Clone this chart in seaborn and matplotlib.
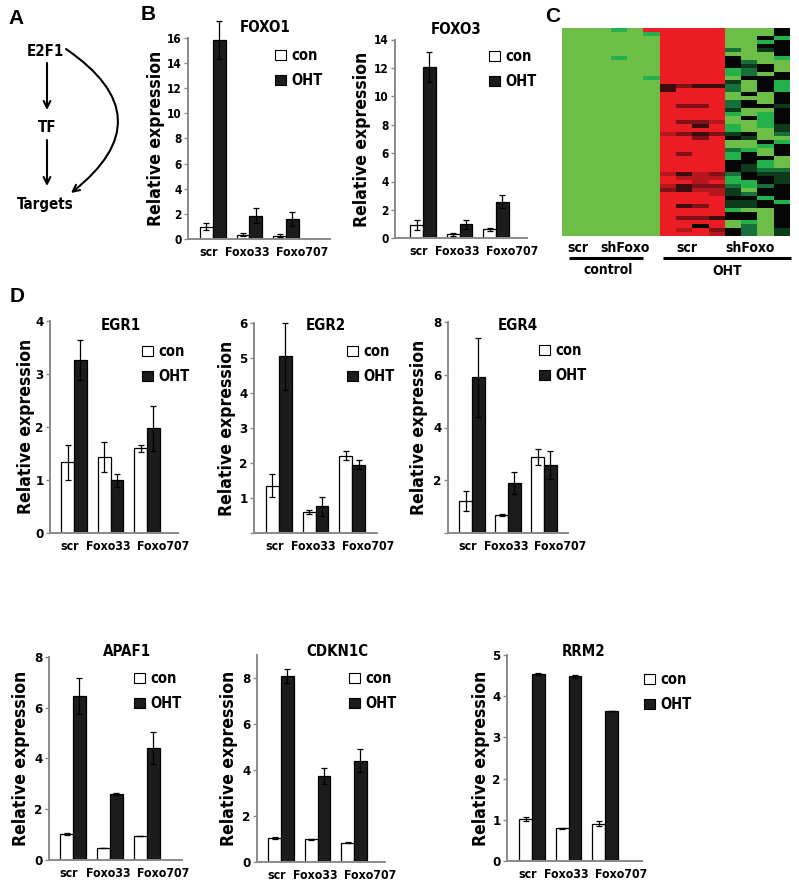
import numpy as np
import pandas as pd
import matplotlib
matplotlib.use('Agg')
import matplotlib.pyplot as plt
from matplotlib import font_manager as fm
from matplotlib import transforms
from matplotlib.colors import ListedColormap
from matplotlib.patches import Patch
import seaborn as sns

W, H = 799, 890

GROUPS = ['scr', 'Foxo33', 'Foxo707']
CONDS = ['con', 'OHT']

# panel B (qPCR, mean and error)
FOXO1_CON = [1.0, 0.37, 0.3]
FOXO1_CON_ERR = [0.27, 0.1, 0.12]
FOXO1_OHT = [15.8, 1.87, 1.63]
FOXO1_OHT_ERR = [1.5, 0.6, 0.55]
FOXO3_CON = [0.92, 0.28, 0.63]
FOXO3_CON_ERR = [0.35, 0.12, 0.12]
FOXO3_OHT = [12.05, 0.99, 2.58]
FOXO3_OHT_ERR = [1.05, 0.3, 0.45]

# panel D
EGR1_CON = [1.33, 1.43, 1.59]
EGR1_CON_ERR = [0.33, 0.28, 0.07]
EGR1_OHT = [3.26, 0.99, 1.97]
EGR1_OHT_ERR = [0.38, 0.12, 0.42]
EGR2_CON = [1.35, 0.6, 2.2]
EGR2_CON_ERR = [0.33, 0.06, 0.13]
EGR2_OHT = [5.05, 0.76, 1.95]
EGR2_OHT_ERR = [0.95, 0.27, 0.12]
EGR4_CON = [1.22, 0.69, 2.9]
EGR4_CON_ERR = [0.38, 0.05, 0.3]
EGR4_OHT = [5.9, 1.91, 2.58]
EGR4_OHT_ERR = [1.5, 0.42, 0.53]
APAF1_CON = [1.02, 0.46, 0.93]
APAF1_CON_ERR = [0.03, 0.0, 0.0]
APAF1_OHT = [6.45, 2.6, 4.4]
APAF1_OHT_ERR = [0.7, 0.04, 0.63]
CDKN1C_CON = [1.04, 0.97, 0.83]
CDKN1C_CON_ERR = [0.03, 0.03, 0.01]
CDKN1C_OHT = [8.1, 3.75, 4.4]
CDKN1C_OHT_ERR = [0.3, 0.35, 0.5]
RRM2_CON = [1.02, 0.79, 0.91]
RRM2_CON_ERR = [0.05, 0.01, 0.06]
RRM2_OHT = [4.54, 4.48, 3.64]
RRM2_OHT_ERR = [0.02, 0.03, 0.01]

# panel C heatmap, one char per cell: 6 control | 4 OHT scr | 4 OHT shFoxo
# 0 light green .. 4 black .. 8 red
HEAT_ROWS = [
    '000108' '8888' '0004',
    '000001' '8888' '0004',
    '000000' '8888' '0041',
    '000000' '8888' '0014',
    '000000' '8888' '0044',
    '000000' '8888' '2034',
    '000000' '8888' '0004',
    '000100' '8888' '4001',
    '000000' '8888' '4200',
    '000000' '8888' '4340',
    '000000' '8888' '1240',
    '000000' '8888' '1204',
    '000001' '8888' '0444',
    '000000' '8888' '3041',
    '000000' '5655' '2041',
    '000000' '5888' '2041',
    '000000' '8888' '0404',
    '000000' '8888' '0004',
    '000000' '8888' '2404',
    '000000' '8668' '2443',
    '000000' '8888' '3004',
    '000000' '8888' '1014',
    '000000' '8888' '0414',
    '000000' '8667' '0014',
    '000000' '8858' '1013',
    '000000' '8888' '1003',
    '000000' '7656' '3402',
    '000000' '8868' '4300',
    '000000' '8888' '0041',
    '000000' '8888' '0014',
    '000000' '8888' '2104',
    '000000' '8688' '1404',
    '000000' '8888' '1440',
    '000000' '8888' '4410',
    '000000' '8888' '4310',
    '000000' '8888' '4322',
    '000000' '7576' '2433',
    '000000' '8777' '1443',
    '000000' '8878' '1143',
    '000000' '7566' '2124',
    '000000' '6577' '3044',
    '000000' '8887' '3244',
    '000000' '8888' '4414',
    '000000' '8888' '3341',
    '000000' '8568' '3344',
    '000000' '8888' '1004',
    '000000' '8888' '4404',
    '000000' '8665' '4404',
    '000000' '8888' '0104',
    '000000' '8848' '0204',
    '000000' '8786' '4203',
    '000000' '8887' '4203',
]
HEAT_COLORS = ['#6cbe46', '#22b14b', '#17703a', '#0c3a1b', '#060606',
               '#3c0b0d', '#7e1218', '#b6171f', '#ec1c24']

sns.set_theme(style='white')

# the figure uses a condensed bold sans; take one if it is installed
narrow = None
for f in fm.fontManager.ttflist:
    is_narrow = ('Narrow' in f.name or 'Condensed' in f.name
                 or str(f.stretch) in ('condensed', 'semi-condensed', 'extra-condensed'))
    if is_narrow and 'Mono' not in f.name and 'Serif' not in f.name:
        if narrow is None or 'Liberation' in f.name:
            narrow = f
if narrow is not None:
    plt.rcParams['font.family'] = [narrow.name, 'Liberation Sans', 'DejaVu Sans']
    plt.rcParams['font.stretch'] = 'condensed'
    k = 1.0
else:
    plt.rcParams['font.family'] = ['Liberation Sans', 'DejaVu Sans']
    k = 0.85
plt.rcParams['font.weight'] = 'bold'
plt.rcParams['text.color'] = 'black'
plt.rcParams['xtick.labelcolor'] = 'black'
plt.rcParams['ytick.labelcolor'] = 'black'

fig = plt.figure(figsize=(W / 100, H / 100), dpi=100)
fig.patch.set_facecolor('white')

texts = []
# the group names sit as one spaced line, not centred on the bars (pixels)
LABEL_SHIFT = [-4, -2, 16]


def bar_panel(x0, x1, yz, yt, ymax, yticks, xlim, con, con_err, oht, oht_err,
              title, title_xy, ylab_x, leg_xy, tick_size=9.5, show_zero=True):
    ax = fig.add_axes([x0 / W, 1 - yz / H, (x1 - x0) / W, (yz - yt) / H])
    ax.patch.set_alpha(0)
    df = pd.DataFrame({'group': GROUPS * 2,
                       'cond': ['con'] * 3 + ['OHT'] * 3,
                       'value': con + oht})
    sns.barplot(data=df, x='group', y='value', hue='cond', order=GROUPS,
                hue_order=CONDS, palette={'con': 'white', 'OHT': '#1c1c1c'},
                saturation=1, edgecolor='black', linewidth=0.9, width=0.7,
                errorbar=None, legend=False, ax=ax)
    for cont, err in zip(ax.containers, [con_err, oht_err]):
        xs = [b.get_x() + b.get_width() / 2 for b in cont]
        ys = [b.get_height() for b in cont]
        ax.errorbar(xs, ys, yerr=err, fmt='none', ecolor='black',
                    elinewidth=0.9, capsize=2.5, capthick=0.9, clip_on=False,
                    zorder=5)
    ax.set_xlim(*xlim)
    ax.set_ylim(0, ymax)
    ax.set_yticks(yticks)
    labs = [str(t) for t in yticks]
    if not show_zero:
        labs[0] = ''
    ax.set_yticklabels(labs)
    ax.set_xlabel('')
    ax.set_ylabel('')
    for s in ['top', 'right']:
        ax.spines[s].set_visible(False)
    for s in ['left', 'bottom']:
        ax.spines[s].set_color('#8a8a8a')
        ax.spines[s].set_linewidth(1.4)
    ax.tick_params(axis='y', left=True, length=3, width=1, color='#8a8a8a',
                   labelcolor='black', pad=1.5, labelsize=tick_size * k)
    ax.tick_params(axis='x', length=0, pad=5, labelsize=8.8 * k,
                   labelcolor='black')
    for lab in ax.get_xticklabels() + ax.get_yticklabels():
        lab.set_fontweight('bold')
    for lab, dx in zip(ax.get_xticklabels(), LABEL_SHIFT):
        off = transforms.ScaledTranslation(dx / 100, 0, fig.dpi_scale_trans)
        lab.set_transform(lab.get_transform() + off)
    texts.append((title_xy[0], title_xy[1], title, 10.8 * k, 0))
    texts.append((ylab_x, (yz + yt) / 2, 'Relative expression', 12.6 * k, 90))
    leg = ax.legend(handles=[Patch(fc='white', ec='black', lw=0.8),
                             Patch(fc='#1c1c1c', ec='black', lw=0.8)],
                    labels=CONDS, loc='center left',
                    bbox_to_anchor=(leg_xy[0] / W, 1 - leg_xy[1] / H),
                    bbox_transform=fig.transFigure, frameon=False, borderpad=0,
                    handlelength=0.7, handleheight=0.7, handletextpad=0.4,
                    labelspacing=0.65, prop={'weight': 'bold', 'size': 10.5 * k})
    for t in leg.get_texts():
        t.set_color('black')
    return ax


# panel B
bar_panel(188, 330, 239.3, 37.6, 16, list(range(0, 17, 2)), (-0.68, 3.2),
          FOXO1_CON, FOXO1_CON_ERR, FOXO1_OHT, FOXO1_OHT_ERR,
          'FOXO1', (265, 27), 156, (268, 68), tick_size=8.5)
bar_panel(395, 527, 238.3, 39.5, 14, list(range(0, 15, 2)), (-0.77, 2.85),
          FOXO3_CON, FOXO3_CON_ERR, FOXO3_OHT, FOXO3_OHT_ERR,
          'FOXO3', (456, 30), 362, (482, 69), tick_size=8.5)

# panel D, top row
bar_panel(50, 178, 532.7, 320.7, 4, [0, 1, 2, 3, 4], (-0.66, 2.85),
          EGR1_CON, EGR1_CON_ERR, EGR1_OHT, EGR1_OHT_ERR,
          'EGR1', (121, 326), 26, (135, 364))
bar_panel(254, 377, 532.7, 323.3, 6, [0, 1, 2, 3, 4, 5, 6], (-0.68, 2.68),
          EGR2_CON, EGR2_CON_ERR, EGR2_OHT, EGR2_OHT_ERR,
          'EGR2', (326, 325), 227, (340, 364), show_zero=False)
bar_panel(448, 568, 533.3, 321.7, 8, [0, 2, 4, 6, 8], (-0.67, 2.67),
          EGR4_CON, EGR4_CON_ERR, EGR4_OHT, EGR4_OHT_ERR,
          'EGR4', (518, 325), 419, (532, 363), show_zero=False)

# panel D, bottom row
bar_panel(49, 182, 860, 656.7, 8, [0, 2, 4, 6, 8], (-0.65, 2.95),
          APAF1_CON, APAF1_CON_ERR, APAF1_OHT, APAF1_OHT_ERR,
          'APAF1', (127, 651), 21, (127, 691))
bar_panel(257, 385, 861.7, 655, 9, [0, 2, 4, 6, 8], (-0.66, 2.85),
          CDKN1C_CON, CDKN1C_CON_ERR, CDKN1C_OHT, CDKN1C_OHT_ERR,
          'CDKN1C', (337, 651), 229, (342, 691))
bar_panel(507, 642, 861, 655, 5, [0, 1, 2, 3, 4, 5], (-0.68, 3.0),
          RRM2_CON, RRM2_CON_ERR, RRM2_OHT, RRM2_OHT_ERR,
          'RRM2', (584, 651), 481, (637, 692))

# panel C heatmap
heat = np.array([[int(c) for c in row] for row in HEAT_ROWS])
axh = fig.add_axes([562 / W, 1 - 236 / H, (790 - 562) / W, (236 - 28) / H])
sns.heatmap(heat, cmap=ListedColormap(HEAT_COLORS), vmin=-0.5, vmax=8.5,
            cbar=False, xticklabels=False, yticklabels=False, ax=axh)

# overlay for the diagram and free text, pixel coordinates
ov = fig.add_axes([0, 0, 1, 1])
ov.set_xlim(0, W)
ov.set_ylim(H, 0)
ov.axis('off')
ov.patch.set_visible(False)

for x, y, s, size, rot in texts:
    ov.text(x, y, s, fontsize=size, fontweight='bold', ha='center',
            va='center', rotation=rot, color='black')

# panel letters
for x, y, s in [(16, 18, 'A'), (148, 15, 'B'), (553, 16, 'C'), (17, 297, 'D')]:
    ov.text(x, y, s, fontsize=15, fontweight='bold', ha='center', va='center',
            family=['Liberation Sans', 'DejaVu Sans'], stretch='normal',
            color='black')

# panel A diagram
lab = 10.8 * k
ov.text(45, 51, 'E2F1', fontsize=lab, fontweight='bold', ha='center', va='center')
ov.text(47, 127, 'TF', fontsize=lab, fontweight='bold', ha='center', va='center')
ov.text(45, 205, 'Targets', fontsize=lab, fontweight='bold', ha='center', va='center')
arrow = dict(arrowstyle='->', lw=1.5, color='black', mutation_scale=12,
             shrinkA=0, shrinkB=0)
ov.annotate('', xy=(47, 110), xytext=(47, 63), arrowprops=arrow)
ov.annotate('', xy=(47, 186), xytext=(47, 140), arrowprops=arrow)
ov.annotate('', xy=(71, 193), xytext=(66, 49),
            arrowprops=dict(arrow, connectionstyle='arc3,rad=-0.68'))

# heatmap labels
hl = 10 * k
for x, s in [(578, 'scr'), (625, 'shFoxo'), (687, 'scr'), (750, 'shFoxo')]:
    ov.text(x, 248, s, fontsize=hl, fontweight='bold', ha='center', va='center')
ov.plot([569, 643], [258, 258], color='black', lw=2.2, solid_capstyle='butt')
ov.plot([663, 791], [258, 258], color='black', lw=2.2, solid_capstyle='butt')
ov.text(608, 270, 'control', fontsize=hl, fontweight='bold', ha='center', va='center')
ov.text(727, 271, 'OHT', fontsize=hl, fontweight='bold', ha='center', va='center')

fig.savefig('out.png', dpi=100, facecolor='white')
